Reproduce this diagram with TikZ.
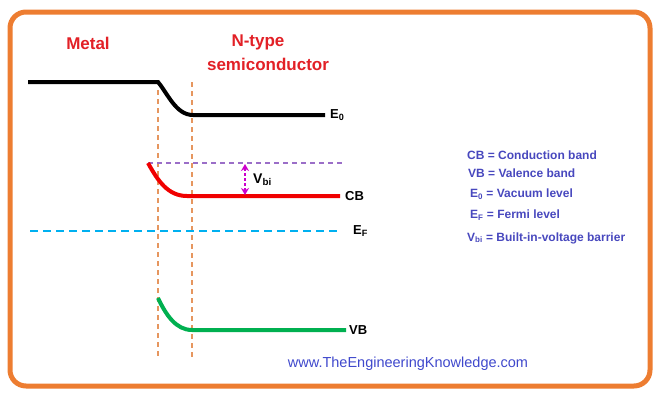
\documentclass[tikz,border=0pt]{standalone}
\usepackage{fontspec}
\setmainfont{Liberation Sans}
\usetikzlibrary{arrows.meta,positioning}
\definecolor{frameorange}{RGB}{237,125,49}
\definecolor{titlered}{RGB}{226,32,38}
\definecolor{bandred}{RGB}{240,0,0}
\definecolor{bandgreen}{RGB}{0,176,80}
\definecolor{fermicyan}{RGB}{0,176,240}
\definecolor{edgetan}{RGB}{230,150,95}
\definecolor{vacpurple}{RGB}{155,110,200}
\definecolor{vbimagenta}{RGB}{204,0,204}
\definecolor{legendblue}{RGB}{72,72,190}
\definecolor{webblue}{RGB}{63,72,204}

\begin{document}
\begin{tikzpicture}[x=1pt,y=-1pt,
    band/.style={line width=4pt},
    bandlabel/.style={right,inner sep=2pt,font=\bfseries\fontsize{13}{15}\selectfont},
    legend/.style={right,inner sep=0pt,text=legendblue,font=\bfseries\fontsize{12}{14}\selectfont},
    title/.style={text=titlered,font=\bfseries\fontsize{17}{20}\selectfont}]
  \useasboundingbox (0,0) rectangle (661,397);
  % frame
  \draw[frameorange,line width=5pt,rounded corners=16pt] (10,12) rectangle (650,386);

  % region titles
  \node[title] (metal) at (88,43) {Metal};
  \node[title] (ntype) at (258,42) {N-type};
  \node[title] (semi) at (268,64) {semiconductor};

  % points of the bands
  \coordinate (e0a) at (28,82);
  \coordinate (e0b) at (158,82);
  \coordinate (e0c) at (193,115);
  \coordinate (e0d) at (325,115);
  \coordinate (cba) at (148,163);
  \coordinate (cbb) at (187,196);
  \coordinate (cbc) at (340,196);
  \coordinate (vba) at (158,298);
  \coordinate (vbb) at (192,330);
  \coordinate (vbc) at (346,330);
  \coordinate (efa) at (30,231);
  \coordinate (efb) at (340,231);
  \coordinate (vaca) at (148,163);
  \coordinate (vacb) at (342,163);

  % depletion edges
  \begin{scope}[edgetan,line width=1.3pt,dash pattern=on 5pt off 4pt]
    \draw (158,90) -- (158,358);
    \draw (192,82) -- (192,358);
  \end{scope}

  % bands
  \draw[band,black] (e0a) -- (e0b) .. controls (168,94) and (176,115) .. (e0c) -- (e0d);
  \draw[vacpurple,line width=1.2pt,dash pattern=on 5pt off 4pt] (vaca) -- (vacb);
  \draw[band,bandred] (cba) .. controls (158,181) and (168,196) .. (cbb) -- (cbc);
  \draw[fermicyan,line width=2.5pt,dash pattern=on 8pt off 5pt] (efa) -- (efb);
  \draw[band,bandgreen] (vba) .. controls (166,315) and (176,330) .. (vbb) -- (vbc);

  % barrier
  \coordinate (vbitop) at (245,164);
  \coordinate (vbibot) at (245,195);
  \coordinate (vbimid) at (248,180);
  \draw[vbimagenta,line width=1.3pt,dash pattern=on 3pt off 2pt,{Stealth[length=7pt,width=8pt]}-{Stealth[length=7pt,width=8pt]}] (vbitop) -- (vbibot);
  \node[right=5pt of vbimid,inner sep=0pt,font=\bfseries\fontsize{14}{16}\selectfont] (vbi) {V\textsubscript{bi}};

  % band labels
  \node[bandlabel] (e0) at ([xshift=3pt]e0d) {E\textsubscript{0}};
  \node[bandlabel] (cb) at ([xshift=3pt]cbc) {CB};
  \node[bandlabel] (ef) at ([xshift=11pt]efb) {E\textsubscript{F}};
  \node[bandlabel] (vb) at ([xshift=1pt]vbc) {VB};

  % legend
  \node[legend] (lcb) at (467,155) {CB = Conduction band};
  \node[legend] (lvb) at (468,173) {VB = Valence band};
  \node[legend] (le0) at (470,194) {E\textsubscript{0} = Vacuum level};
  \node[legend] (lef) at (470,215) {E\textsubscript{F} = Fermi level};
  \node[legend] (lvbi) at (467,238) {V\textsubscript{bi} = Built-in-voltage barrier};

  \node[text=webblue,font=\fontsize{14.5}{16}\selectfont] (web) at (408,364) {www.TheEngineeringKnowledge.com};
\end{tikzpicture}
\end{document}
